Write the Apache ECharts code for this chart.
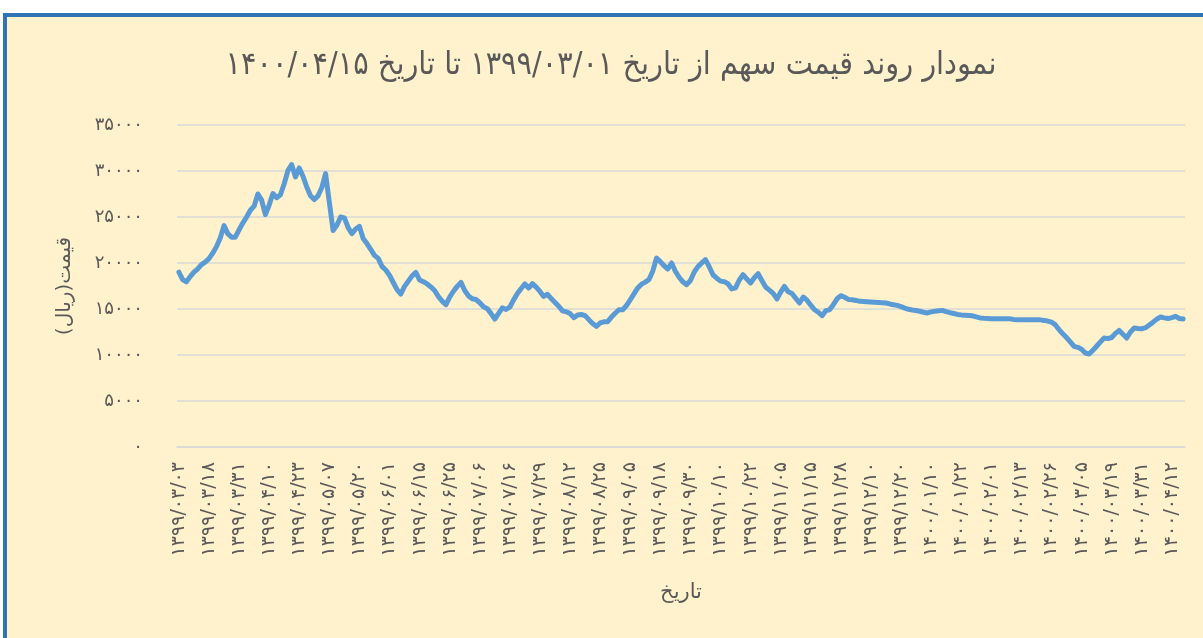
<!DOCTYPE html>
<html>
<head>
<meta charset="utf-8">
<script src="https://cdn.jsdelivr.net/npm/echarts@6/dist/echarts.min.js"></script>
<style>
html,body{margin:0;padding:0;background:#ffffff;width:1203px;height:638px;overflow:hidden;}
#frame{position:absolute;left:3px;top:13px;width:1220px;height:650px;background:#FFF2CC;border-left:4px solid #2E75B6;border-top:4px solid #2E75B6;box-sizing:border-box;}
#chart{position:absolute;left:0;top:0;width:1203px;height:638px;}
</style>
</head>
<body>
<div id="frame"></div>
<div id="chart"></div>
<script>
const titleText = 'نمودار روند قیمت سهم از تاریخ ۱۳۹۹/۰۳/۰۱ تا تاریخ ۱۴۰۰/۰۴/۱۵';
const yAxisTitle = '\u200Fقیمت(ریال)\u200F';
const xAxisTitle = 'تاریخ';

// one x label every 8 trading days
const xTickLabels = [
  '۱۳۹۹/۰۳/۰۳','۱۳۹۹/۰۳/۱۸','۱۳۹۹/۰۳/۳۱','۱۳۹۹/۰۴/۱۰','۱۳۹۹/۰۴/۲۳','۱۳۹۹/۰۵/۰۷',
  '۱۳۹۹/۰۵/۲۰','۱۳۹۹/۰۶/۰۱','۱۳۹۹/۰۶/۱۵','۱۳۹۹/۰۶/۲۵','۱۳۹۹/۰۷/۰۶','۱۳۹۹/۰۷/۱۶',
  '۱۳۹۹/۰۷/۲۹','۱۳۹۹/۰۸/۱۲','۱۳۹۹/۰۸/۲۵','۱۳۹۹/۰۹/۰۵','۱۳۹۹/۰۹/۱۸','۱۳۹۹/۰۹/۳۰',
  '۱۳۹۹/۱۰/۱۰','۱۳۹۹/۱۰/۲۲','۱۳۹۹/۱۱/۰۵','۱۳۹۹/۱۱/۱۵','۱۳۹۹/۱۱/۲۸','۱۳۹۹/۱۲/۱۰',
  '۱۳۹۹/۱۲/۲۰','۱۴۰۰/۰۱/۱۰','۱۴۰۰/۰۱/۲۲','۱۴۰۰/۰۲/۰۱','۱۴۰۰/۰۲/۱۳','۱۴۰۰/۰۲/۲۶',
  '۱۴۰۰/۰۳/۰۵','۱۴۰۰/۰۳/۱۹','۱۴۰۰/۰۳/۳۱','۱۴۰۰/۰۴/۱۲'
];
const labelStep = 8;

const yTickLabels = ['۰','۵۰۰۰','۱۰۰۰۰','۱۵۰۰۰','۲۰۰۰۰','۲۵۰۰۰','۳۰۰۰۰','۳۵۰۰۰'];

// daily closing price (rial)
const prices = [
  19000,18200,17950,18520,19010,19350,19830,20100,20470,21070,
  21780,22720,24060,23190,22810,22800,23610,24340,25000,25740,
  26180,27500,26830,25250,26300,27550,27100,27420,28620,30060,
  30690,29350,30330,29430,28260,27310,26900,27300,28200,29710,
  26600,23540,24100,25000,24900,23840,23190,23700,23980,22660,
  22110,21490,20830,20500,19630,19230,18670,17880,17100,16630,
  17460,18030,18600,18980,18150,17970,17720,17400,17010,16350,
  15860,15470,16300,16930,17460,17890,17010,16420,16110,16030,
  15680,15240,15040,14500,13910,14530,15120,14950,15220,15990,
  16680,17230,17720,17280,17750,17370,16910,16370,16600,16130,
  15710,15300,14790,14690,14500,14060,14340,14400,14280,13840,
  13430,13110,13480,13610,13620,14120,14540,14920,14920,15380,
  16000,16650,17290,17700,17920,18210,19130,20540,20150,19700,
  19350,20000,19100,18450,17950,17640,18100,19000,19610,20000,
  20360,19600,18720,18350,18030,17970,17740,17180,17300,18150,
  18730,18250,17830,18400,18840,18100,17390,17050,16700,16090,
  16830,17460,16880,16690,16160,15650,16300,15960,15420,14920,
  14650,14270,14820,14910,15470,16110,16450,16280,16040,16010,
  15930,15830,15810,15790,15770,15740,15710,15680,15650,15550,
  15470,15390,15260,15100,14970,14900,14840,14750,14650,14570,
  14690,14750,14800,14850,14710,14600,14510,14410,14360,14330,
  14300,14260,14140,14030,14000,13980,13950,13950,13950,13950,
  13950,13930,13860,13840,13840,13840,13840,13840,13840,13820,
  13760,13690,13570,13300,12760,12310,11900,11420,10930,10830,
  10630,10220,10110,10500,10950,11420,11850,11780,11900,12350,
  12670,12250,11850,12510,12940,12890,12850,12970,13260,13570,
  13900,14130,14040,13960,14070,14200,13970,13910
];

const categories = prices.map((_, i) => i);
const gray = '#595959';
const fontC = 'DejaVu Sans Condensed, DejaVu Sans, sans-serif';
const fontN = 'DejaVu Sans, sans-serif';

const chart = echarts.init(document.getElementById('chart'), null, {renderer: 'canvas'});
chart.setOption({
  animation: false,
  backgroundColor: 'transparent',
  title: {
    text: titleText,
    left: 606,
    top: 45,
    textAlign: 'center',
    textStyle: {fontFamily: fontC, fontSize: 32, fontWeight: 'normal', color: gray}
  },
  grid: {left: 177, right: 18, top: 125, bottom: 191, containLabel: false},
  xAxis: {
    type: 'category',
    data: categories,
    boundaryGap: true,
    name: xAxisTitle,
    nameLocation: 'middle',
    nameGap: 135,
    nameTextStyle: {fontFamily: fontN, fontSize: 21, color: gray},
    axisLine: {show: true, lineStyle: {color: '#D9D9D9', width: 1.5}},
    axisTick: {show: false},
    axisLabel: {
      interval: labelStep - 1,
      rotate: 90,
      margin: 15,
      fontFamily: fontN,
      fontSize: 19,
      color: gray,
      formatter: (v, idx) => xTickLabels[Math.round(idx / labelStep)] || ''
    },
    splitLine: {show: false}
  },
  yAxis: {
    type: 'value',
    min: 0,
    max: 35000,
    interval: 5000,
    name: yAxisTitle,
    nameLocation: 'middle',
    nameRotate: 90,
    nameGap: 102,
    nameTextStyle: {fontFamily: fontN, fontSize: 20, color: gray},
    axisLine: {show: false},
    axisTick: {show: false},
    axisLabel: {
      margin: 34,
      fontFamily: fontN,
      fontSize: 18,
      color: gray,
      formatter: v => yTickLabels[Math.round(v / 5000)]
    },
    splitLine: {show: true, lineStyle: {color: '#D9D9D9', width: 1.5}}
  },
  series: [{
    type: 'line',
    data: prices,
    showSymbol: false,
    smooth: false,
    lineStyle: {color: '#5B9BD5', width: 5, cap: 'round', join: 'round'},
    itemStyle: {color: '#5B9BD5'}
  }]
});
</script>
</body>
</html>
